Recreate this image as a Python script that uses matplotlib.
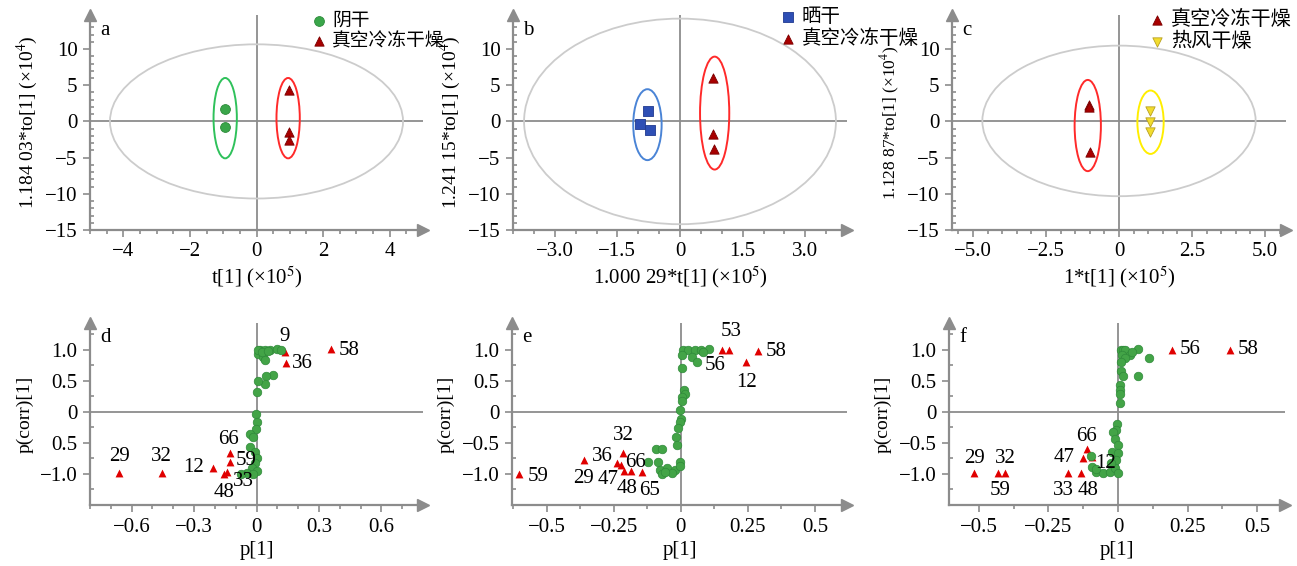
import matplotlib
matplotlib.use('Agg')
import matplotlib.pyplot as plt
from matplotlib.patches import Ellipse
from matplotlib.ticker import MultipleLocator

plt.rcParams['font.family'] = ['Liberation Serif', 'Noto Sans CJK SC']
plt.rcParams['mathtext.fontset'] = 'stix'
plt.rcParams['font.size'] = 14

# ---------------- data: score plots (a, b, c) ----------------
a_shade_t = [-0.94, -0.94]
a_shade_to = [1.7, -0.8]
a_vfd_t = [0.97, 0.97, 0.97]
a_vfd_to = [4.4, -1.5, -2.6]

b_sun_t = [-0.76, -0.95, -0.73]
b_sun_to = [1.5, -0.3, -1.15]
b_vfd_t = [0.80, 0.80, 0.82]
b_vfd_to = [6.05, -1.8, -3.8]

c_vfd_t = [-1.03, -1.02, -1.0]
c_vfd_to = [2.3, 2.0, -4.2]
c_hot_t = [1.05, 1.05, 1.05]
c_hot_to = [1.4, -0.15, -1.4]

# ellipses: (centre x, centre y, width, height)
a_t2 = (0, 0, 8.8, 21.3)
a_ell_shade = (-0.94, 0.45, 0.7, 11.1)
a_ell_vfd = (0.95, 0.45, 0.7, 11.1)
b_t2 = (0, 0, 7.47, 28.4)
b_ell_sun = (-0.78, -0.45, 0.68, 9.8)
b_ell_vfd = (0.83, 1.15, 0.7, 15.6)
c_t2 = (0, 0.07, 9.36, 20.8)
c_ell_vfd = (-1.07, -0.57, 0.9, 12.6)
c_ell_hot = (1.08, -0.11, 0.9, 8.76)

# ---------------- data: S-plots (d, e, f) ----------------
d_green_x = [0.016, 0.04, 0.064, 0.097, 0.12, 0.008, 0.032, 0.04, 0.008, 0.08,
             0.048, 0.04, 0.005, 0.0, -0.003, 0.0, -0.002, -0.032, -0.016, -0.032,
             -0.008, 0.0, -0.008, -0.024, 0.0, -0.048, -0.073, -0.016, 0.025, 0.055]
d_green_y = [0.995, 1.0, 1.0, 1.01, 1.0, 0.93, 0.89, 0.83, 1.0, 0.59,
             0.57, 0.44, 0.49, 0.32, -0.04, -0.17, -0.28, -0.35, -0.4, -0.56,
             -0.64, -0.75, -0.83, -0.91, -0.96, -0.99, -1.0, -1.0, 0.97, 0.98]
d_red_lab = ['29', '32', '12', '66', '59', '48', '33', '9', '36', '58']
d_red_x = [-0.66, -0.456, -0.21, -0.129, -0.129, -0.158, -0.14, 0.137, 0.141, 0.36]
d_red_y = [-0.98, -0.98, -0.90, -0.67, -0.80, -1.0, -0.97, 0.96, 0.79, 1.01]

e_green_x = [0.009, 0.027, 0.052, 0.077, 0.106, 0.004, 0.041, 0.061, 0.083, 0.004,
             0.01, 0.016, 0.004, 0.004, -0.002, 0.0, -0.004, -0.012, -0.018, -0.013,
             -0.093, -0.072, -0.122, -0.084, -0.003, -0.077, -0.051, -0.02, -0.07, -0.033,
             -0.005, -0.06]
e_green_y = [0.995, 1.0, 1.0, 1.0, 1.01, 0.915, 0.89, 0.81, 0.97, 0.70,
             0.35, 0.28, 0.24, 0.17, 0.03, -0.11, -0.16, -0.26, -0.4, -0.54,
             -0.6, -0.6, -0.8, -0.8, -0.8, -0.94, -0.91, -0.94, -1.0, -0.98,
             -0.88, -0.97]
e_red_lab = ['59', '29', '36', '47', '32', '66', '48', '65', '56', '53', '12', '58']
e_red_x = [-0.603, -0.363, -0.239, -0.225, -0.214, -0.187, -0.213, -0.144, 0.153, 0.178, 0.244, 0.287]
e_red_y = [-1.0, -0.77, -0.83, -0.85, -0.66, -0.95, -0.95, -0.97, 1.0, 1.0, 0.80, 0.98]

f_green_x = [0.012, 0.018, 0.024, 0.072, 0.014, 0.044, 0.026, 0.012, 0.11, 0.072,
             0.012, 0.018, 0.006, 0.006, 0.006, 0.006, -0.004, -0.008, -0.018, -0.012,
             0.0, -0.02, 0.0, -0.006, -0.096, -0.092, -0.078, -0.054, -0.03, -0.012,
             0.0, -0.024, -0.08, 0.05]
f_green_y = [1.0, 1.0, 1.0, 1.01, 0.91, 0.91, 0.86, 0.81, 0.87, 0.58,
             0.65, 0.57, 0.43, 0.35, 0.29, 0.15, -0.19, -0.3, -0.33, -0.43,
             -0.54, -0.64, -0.67, -0.78, -0.71, -0.89, -0.97, -0.99, -0.97, -0.91,
             -0.99, -0.83, -0.92, 0.97]
f_red_lab = ['29', '59', '32', '33', '48', '47', '66', '12', '56', '58']
f_red_x = [-0.516, -0.432, -0.405, -0.18, -0.132, -0.126, -0.112, -0.095, 0.194, 0.404]
f_red_y = [-0.98, -0.98, -0.98, -0.98, -0.98, -0.75, -0.6, -0.72, 1.0, 1.0]

# label offsets in pixels (placement only)
d_off = [(0, 16), (0, 16), (-19, 0), (-1, 14), (16, 1), (0, -19), (16, -9), (0, 16), (17, -1), (18, -1)]
e_off = [(19, -3), (0, -19), (-14, 7), (-12, -15), (0, 17), (5, 8), (3, -18), (7, -18),
         (-7, -16), (3, 18), (0, -20), (18, -1)]
f_off = [(0, 14), (2, -18), (0, 14), (-4, -18), (7, -18), (-19, 1), (0, 13), (14, -7), (18, 0), (18, 0)]

# tick labels
top_yticks = [10, 5, 0, -5, -10, -15]
top_ylabels = ['10', '5', '0', '−5', '−10', '−15']
a_xticks = [-4, -2, 0, 2, 4]
a_xlabels = ['−4', '−2', '0', '2', '4']
b_xticks = [-3, -1.5, 0, 1.5, 3]
b_xlabels = ['−3.0', '−1.5', '0', '1.5', '3.0']
c_xticks = [-5, -2.5, 0, 2.5, 5]
c_xlabels = ['−5.0', '−2.5', '0', '2.5', '5.0']
bot_yticks = [1.0, 0.5, 0, -0.5, -1.0]
d_ylabels = ['1.0', '0.5', '0', '0.5', '−1.0']
ef_ylabels = ['1.0', '0.5', '0', '−0.5', '−1.0']
d_xticks = [-0.6, -0.3, 0, 0.3, 0.6]
d_xlabels = ['−0.6', '−0.3', '0', '0.3', '0.6']
ef_xticks = [-0.5, -0.25, 0, 0.25, 0.5]
ef_xlabels = ['−0.5', '−0.25', '0', '0.25', '0.5']

GRAY = '#8c8c8c'
FS = 15
W, H = 1297, 566
fig = plt.figure(figsize=(W / 100, H / 100), dpi=100)


def make_ax(left, right, top, bottom):
    return fig.add_axes([left / W, 1 - bottom / H, (right - left) / W, (bottom - top) / H])


def style(ax, xlim, ylim, xt, xl, yt, yl, xmin, ymin, letter):
    ax.set_xlim(*xlim)
    ax.set_ylim(*ylim)
    for s in ['top', 'right']:
        ax.spines[s].set_visible(False)
    for s in ['left', 'bottom']:
        ax.spines[s].set_color(GRAY)
        ax.spines[s].set_linewidth(1.6)
    ax.plot([0], [1], marker='^', ms=9, color=GRAY, transform=ax.transAxes, clip_on=False)
    ax.plot([1], [0], marker='>', ms=9, color=GRAY, transform=ax.transAxes, clip_on=False)
    ax.axhline(0, color=GRAY, lw=1.3, zorder=1)
    ax.axvline(0, color=GRAY, lw=1.3, zorder=1)
    ax.set_xticks(xt, xl)
    ax.set_yticks(yt, yl)
    ax.xaxis.set_minor_locator(MultipleLocator(xmin))
    ax.yaxis.set_minor_locator(MultipleLocator(ymin))
    ax.tick_params(which='both', color=GRAY, width=1.2, labelsize=FS, pad=4)
    ax.tick_params(which='major', length=5)
    ax.tick_params(which='minor', length=3)
    ax.tick_params(axis='y', which='minor', direction='in')
    ax.text(0.03, 0.97, letter, transform=ax.transAxes, fontsize=FS, va='top', ha='left')


def ell(ax, p, color, lw=1.4):
    ax.add_patch(Ellipse((p[0], p[1]), p[2], p[3], fill=False, ec=color, lw=lw, zorder=2))


# ---------------- top row ----------------
ax_a = make_ax(90, 423, 15, 230)
ax_b = make_ax(513, 847, 15, 230)
ax_c = make_ax(952, 1286, 15, 230)
top_ylim = (-15, 14.7)
style(ax_a, (-5, 5), top_ylim, a_xticks, a_xlabels, top_yticks, top_ylabels, 0.5, 1, 'a')
style(ax_b, (-4, 4), top_ylim, b_xticks, b_xlabels, top_yticks, top_ylabels, 0.5, 1, 'b')
style(ax_c, (-5.72, 5.72), top_ylim, c_xticks, c_xlabels, top_yticks, top_ylabels, 0.5, 1, 'c')

ell(ax_a, a_t2, '#cccccc', 1.3)
ell(ax_a, a_ell_shade, '#2fc15b')
ell(ax_a, a_ell_vfd, '#ff2a2a')
ax_a.scatter(a_shade_t, a_shade_to, s=50, c='#3aa64a', edgecolors='#2d8a3a', lw=0.6, zorder=3, label='阴干')
ax_a.scatter(a_vfd_t, a_vfd_to, s=45, marker='^', c='#a80000', edgecolors='#7a0000', lw=0.6, zorder=3,
             label='真空冷冻干燥')

ell(ax_b, b_t2, '#cccccc', 1.3)
ell(ax_b, b_ell_sun, '#4a84d6')
ell(ax_b, b_ell_vfd, '#ff2a2a')
ax_b.scatter(b_sun_t, b_sun_to, s=45, marker='s', c='#2e4fb5', edgecolors='#203a90', lw=0.6, zorder=3, label='晒干')
ax_b.scatter(b_vfd_t, b_vfd_to, s=45, marker='^', c='#a80000', edgecolors='#7a0000', lw=0.6, zorder=3,
             label='真空冷冻干燥')

ell(ax_c, c_t2, '#cccccc', 1.3)
ell(ax_c, c_ell_vfd, '#ff2a2a')
ell(ax_c, c_ell_hot, '#ffee00')
ax_c.scatter(c_vfd_t, c_vfd_to, s=45, marker='^', c='#a80000', edgecolors='#7a0000', lw=0.6, zorder=3,
             label='真空冷冻干燥')
ax_c.scatter(c_hot_t, c_hot_to, s=45, marker='v', c='#f2dc2e', edgecolors='#b8a020', lw=0.6, zorder=3,
             label='热风干燥')

for ax, x0, y0, fs in [(ax_a, 0.665, 1.01, 13.5), (ax_b, 0.8, 1.03, 14), (ax_c, 0.59, 1.02, 14.5)]:
    ax.legend(loc='upper left', bbox_to_anchor=(x0, y0), frameon=False, fontsize=fs,
              handlelength=0.8, handletextpad=0.3, labelspacing=0.15, borderpad=0,
              borderaxespad=0, markerscale=1.0)

ax_a.set_xlabel('t[1] (×10$^{5}$)', fontsize=FS)
ax_b.set_xlabel('1.000 29*t[1] (×10$^{5}$)', fontsize=FS)
ax_c.set_xlabel('1*t[1] (×10$^{5}$)', fontsize=FS)
ax_a.set_ylabel('1.184 03*to[1] (×10$^{4}$)', fontsize=14)
ax_b.set_ylabel('1.241 15*to[1] (×10$^{4}$)', fontsize=14)
ax_c.set_ylabel('1.128 87*to[1] (×10$^{4}$)', fontsize=12.5)
for ax in (ax_a, ax_b, ax_c):
    ax.xaxis.set_label_coords(0.5, -0.16)
    ax.yaxis.set_label_coords(-0.15, 0.5)

# ---------------- bottom row ----------------
ax_d = make_ax(90, 423, 323, 505)
ax_e = make_ax(512, 847, 323, 505)
ax_f = make_ax(949, 1285, 323, 505)
bot_ylim = (-1.5, 1.43)
style(ax_d, (-0.8, 0.8), bot_ylim, d_xticks, d_xlabels, bot_yticks, d_ylabels, 0.1, 0.25, 'd')
style(ax_e, (-0.63, 0.62), bot_ylim, ef_xticks, ef_xlabels, bot_yticks, ef_ylabels, 0.125, 0.25, 'e')
style(ax_f, (-0.607, 0.6), bot_ylim, ef_xticks, ef_xlabels, bot_yticks, ef_ylabels, 0.125, 0.25, 'f')

for ax, gx, gy, rl, rx, ry, off in [
        (ax_d, d_green_x, d_green_y, d_red_lab, d_red_x, d_red_y, d_off),
        (ax_e, e_green_x, e_green_y, e_red_lab, e_red_x, e_red_y, e_off),
        (ax_f, f_green_x, f_green_y, f_red_lab, f_red_x, f_red_y, f_off)]:
    ax.scatter(rx, ry, s=32, marker='^', c='#e00000', lw=0, zorder=3)
    ax.scatter(gx, gy, s=38, c='#43a447', edgecolors='#2f8a3a', lw=0.5, zorder=4)
    for lab, x, y, o in zip(rl, rx, ry, off):
        ax.annotate(lab, (x, y), xytext=o, textcoords='offset pixels', ha='center', va='center',
                    fontsize=FS, zorder=5)
    ax.set_xlabel('p[1]', fontsize=FS)
    ax.set_ylabel('p(corr)[1]', fontsize=14)
    ax.xaxis.set_label_coords(0.5, -0.2)
    ax.yaxis.set_label_coords(-0.17, 0.5)

fig.savefig('out.png', dpi=100)
